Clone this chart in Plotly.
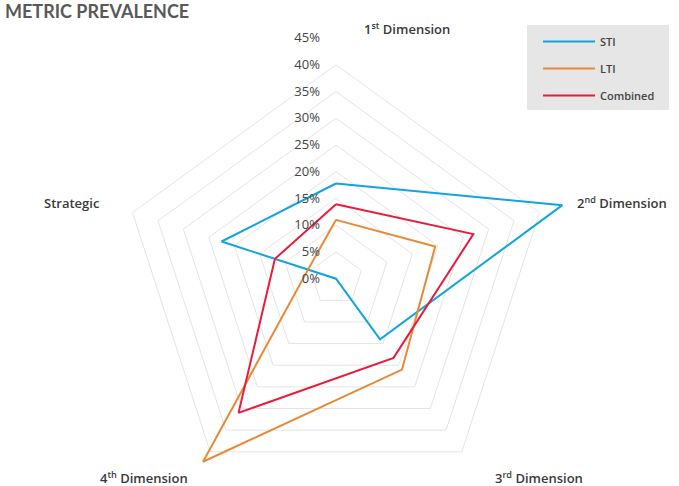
import plotly.graph_objects as go

categories = ["1<sup>st</sup> Dimension", "2<sup>nd</sup> Dimension", "3<sup>rd</sup> Dimension",
              "4<sup>th</sup> Dimension", "Strategic"]
sti = [17.8, 44.5, 14.0, 0.0, 22.5]
lti = [11.0, 19.5, 21.0, 42.3, 5.5]
combined = [13.9, 27.0, 18.3, 31.0, 12.0]
tick_vals = [0, 5, 10, 15, 20, 25, 30, 35, 40, 45]
tick_text = [f"{v}%" for v in tick_vals]

W, H = 679, 520
cx, cy, R = 336.0, 278.7, 240.7  # pixel centre (from top) and radius of the polar area


def px(x):
    return x / W


def py(y):
    return 1 - y / H


fig = go.Figure()
series = [("STI", sti, "#13a4dd"), ("LTI", lti, "#e68a36"), ("Combined", combined, "#e81c3d")]
for name, vals, col in series:
    fig.add_trace(go.Scatterpolar(
        r=vals + vals[:1], theta=categories + categories[:1], mode="lines", name=name,
        legendgroup=name, line=dict(color=col, width=2)))

label_pos = [(362, 28, "left"), (575, 203, "left"), (493, 477, "left"), (190, 477, "right"), (102, 203, "right")]
annotations = []
for cat, (x, y, anc) in zip(categories, label_pos):
    annotations.append(dict(text=cat, x=px(x), y=py(y), xref="paper", yref="paper",
                            xanchor=anc, yanchor="middle", showarrow=False,
                            font=dict(family="Open Sans", size=13, color="#3a3a3a", weight=600)))

fig.update_layout(
    width=W, height=H, margin=dict(l=0, r=0, t=0, b=0),
    paper_bgcolor="white", plot_bgcolor="white",
    font=dict(family="Open Sans", color="#444"),
    title=dict(text="METRIC PREVALENCE", x=px(5), xanchor="left", y=py(12), yanchor="middle",
               xref="paper", yref="paper",
               font=dict(family="Lato", size=18, color="#595959", weight=700)),
    polar=dict(
        domain=dict(x=[px(cx - R), px(cx + R)], y=[py(cy + R), py(cy - R)]),
        bgcolor="white", gridshape="linear",
        radialaxis=dict(range=[0, 45], tickvals=tick_vals, ticktext=tick_text, angle=90,
                        side="counterclockwise", showline=False, ticks="outside", ticklen=11,
                        tickcolor="rgba(0,0,0,0)", tickangle=90,
                        gridcolor="#e4e4e4", gridwidth=1,
                        tickfont=dict(family="Open Sans", size=13, color="#444")),
        angularaxis=dict(categoryarray=categories, categoryorder="array", rotation=90,
                         direction="clockwise", showgrid=False, showline=False,
                         showticklabels=False, ticks=""),
    ),
    shapes=[dict(type="rect", xref="paper", yref="paper", x0=px(527), x1=px(669),
                 y0=py(110), y1=py(25), fillcolor="#e6e6e6", line=dict(width=0), layer="below")],
    legend=dict(x=px(538), y=py(27), xanchor="left", yanchor="top", itemwidth=52,
                bgcolor="rgba(0,0,0,0)", borderwidth=0, tracegroupgap=8,
                font=dict(family="Open Sans", size=11, color="#444", weight=600)),
    annotations=annotations,
)

fig.write_html("out.html", config={"displayModeBar": False},
               post_script="document.body.style.overflow='hidden';document.body.style.margin='0';")
